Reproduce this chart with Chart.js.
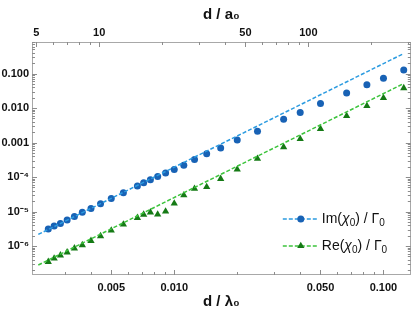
<!DOCTYPE html>
<html>
<head>
<meta charset="utf-8">
<script src="https://cdn.jsdelivr.net/npm/chart.js@4.4.1/dist/chart.umd.min.js"></script>
<style>
  html, body { margin: 0; padding: 0; background: #fff; }
</style>
</head>
<body>
<canvas id="grafico" width="415" height="319"></canvas>
<script>
// d / lambda0 values of the sampled points
const dLambda = [0.0025, 0.002667, 0.002857, 0.003077, 0.003333, 0.003636, 0.004, 0.004444, 0.005, 0.005714,
                 0.006667, 0.007143, 0.007692, 0.008333, 0.009091, 0.01, 0.01111, 0.0125, 0.01429, 0.01667,
                 0.02, 0.025, 0.03333, 0.04, 0.05, 0.06667, 0.08333, 0.1, 0.125];
const imChi = [3.1e-6, 3.8e-6, 4.5e-6, 5.7e-6, 7.2e-6, 9.5e-6, 1.23e-5, 1.68e-5, 2.4e-5, 3.5e-5,
               5.5e-5, 6.8e-5, 8.3e-5, 1.04e-4, 1.30e-4, 1.66e-4, 2.2e-4, 3.2e-4, 4.7e-4, 6.9e-4,
               1.19e-3, 2.13e-3, 4.7e-3, 7.4e-3, 0.0135, 0.0274, 0.047, 0.073, 0.127];
const reChi = [3.5e-7, 4.4e-7, 5.4e-7, 6.6e-7, 8.6e-7, 1.07e-6, 1.42e-6, 1.95e-6, 2.85e-6, 4.25e-6,
               6.6e-6, 8.2e-6, 9.5e-6, 8.3e-6, 1.01e-5, 1.72e-5, 3.0e-5, 4.6e-5, 5.2e-5, 8.9e-5,
               1.67e-4, 3.4e-4, 7.4e-4, 1.28e-3, 2.5e-3, 5.9e-3, 0.0115, 0.0197, 0.038];

// dashed fit lines (end points)
const fitX = [0.00224, 0.1231];
const imFit = [2.17e-6, 0.362];
const reFit = [2.82e-7, 0.049];

const yTicks = [1e-6, 1e-5, 1e-4, 1e-3, 1e-2, 1e-1];
const yTickLabels = ['10\u207B\u2076', '10\u207B\u2075', '10\u207B\u2074', '0.001', '0.010', '0.100'];
const xTicks = [0.005, 0.01, 0.05, 0.1];
const xTickLabels = ['0.005', '0.010', '0.050', '0.100'];
const topTicks = [5, 10, 50, 100];
const topTickLabels = ['5', '10', '50', '100'];

const xMin = 0.00209, xMax = 0.1351;
const yMin = 1.45e-7, yMax = 0.82;
const aFactor = 2284; // d/a0 = aFactor * d/lambda0

const azul = '#1862b5';
const azulLinea = '#2b9be0';
const verde = '#157a15';
const verdeLinea = '#3cc43c';
const fuente = "'Liberation Sans', Arial, sans-serif";

function puntos(xs, ys) {
    return xs.map((x, i) => ({ x: x, y: ys[i] }));
}

// texto con subindices: partes [texto, tipo]
function textoRico(ctx, partes, x, y) {
    partes.forEach(([t, tipo]) => {
        if (tipo === 'sub') {
            ctx.font = '10px ' + fuente;
            ctx.fillText(t, x, y + 4);
        } else {
            ctx.font = (tipo === 'it' ? 'italic ' : '') + '14px ' + fuente;
            ctx.fillText(t, x, y);
        }
        x += ctx.measureText(t).width;
    });
}

const marcoPlugin = {
    id: 'marco',
    afterDatasetsDraw(chart) {
        const { ctx, chartArea: a, scales } = chart;
        ctx.save();
        ctx.strokeStyle = '#a8a8a8';
        ctx.lineWidth = 1;
        ctx.strokeRect(Math.round(a.left) + 0.5, Math.round(a.top) + 0.5,
                       Math.round(a.width) - 1, Math.round(a.height) - 1);
        ctx.strokeStyle = '#8c8c8c';
        ctx.beginPath();
        // y ticks left & right
        for (let e = -8; e <= 0; e++) {
            for (let m = 1; m <= 9; m++) {
                const v = m * Math.pow(10, e);
                if (v < yMin || v > yMax) continue;
                const py = Math.round(scales.y.getPixelForValue(v)) + 0.5;
                const len = m === 1 ? 5 : 3;
                ctx.moveTo(a.left, py); ctx.lineTo(a.left + len, py);
                ctx.moveTo(a.right, py); ctx.lineTo(a.right - len, py);
            }
        }
        // bottom ticks
        for (let e = -4; e <= 0; e++) {
            for (let m = 1; m <= 9; m++) {
                const v = m * Math.pow(10, e);
                if (v < xMin || v > xMax) continue;
                const px = Math.round(scales.x.getPixelForValue(v)) + 0.5;
                const len = xTicks.some(t => Math.abs(t - v) / t < 1e-6) ? 5 : 3;
                ctx.moveTo(px, a.bottom); ctx.lineTo(px, a.bottom - len);
            }
        }
        // top ticks
        for (let e = 0; e <= 3; e++) {
            for (let m = 1; m <= 9; m++) {
                const v = m * Math.pow(10, e);
                if (v < xMin * aFactor || v > xMax * aFactor) continue;
                const px = Math.round(scales.x2.getPixelForValue(v)) + 0.5;
                const len = topTicks.includes(v) ? 5 : 3;
                ctx.moveTo(px, a.top); ctx.lineTo(px, a.top + len);
            }
        }
        ctx.stroke();
        ctx.restore();
    },
    afterDraw(chart) {
        const { ctx, chartArea: a } = chart;
        const filas = [
            { partes: [['Im(', 'n'], ['\u03C7', 'it'], ['0', 'sub'], [') / \u0393', 'n'], ['0', 'sub']],
              linea: azulLinea, color: azul, estilo: 'circle', y: a.bottom - 56 },
            { partes: [['Re(', 'n'], ['\u03C7', 'it'], ['0', 'sub'], [') / \u0393', 'n'], ['0', 'sub']],
              linea: verdeLinea, color: verde, estilo: 'triangle', y: a.bottom - 29 }
        ];
        ctx.save();
        filas.forEach(f => {
            const x0 = a.right - 128, x1 = a.right - 92;
            ctx.strokeStyle = f.linea;
            ctx.lineWidth = 1.5;
            ctx.setLineDash([4, 2]);
            ctx.beginPath();
            ctx.moveTo(x0, f.y); ctx.lineTo(x1, f.y);
            ctx.stroke();
            ctx.setLineDash([]);
            ctx.fillStyle = f.color;
            ctx.strokeStyle = f.color;
            Chart.helpers.drawPoint(ctx, { pointStyle: f.estilo, radius: f.estilo === 'circle' ? 3.5 : 4.2, borderWidth: 0 }, (x0 + x1) / 2, f.y);
            ctx.fillStyle = '#111';
            ctx.textBaseline = 'middle';
            ctx.textAlign = 'left';
            textoRico(ctx, f.partes, x1 + 3, f.y);
        });
        ctx.restore();
    }
};

const tickFont = { family: fuente, size: 11, weight: 'bold' };
const tituloFont = { family: fuente, size: 15, weight: 'bold' };

new Chart(document.getElementById('grafico').getContext('2d'), {
    type: 'scatter',
    data: {
        datasets: [
            {
                label: 'Im fit',
                data: puntos(fitX, imFit),
                showLine: true,
                borderColor: azulLinea,
                borderWidth: 1.5,
                borderDash: [4, 2],
                pointRadius: 0
            },
            {
                label: 'Re fit',
                data: puntos(fitX, reFit),
                showLine: true,
                borderColor: verdeLinea,
                borderWidth: 1.5,
                borderDash: [4, 2],
                pointRadius: 0
            },
            {
                label: 'Im(\u03C7\u2080) / \u0393\u2080',
                data: puntos(dLambda, imChi),
                pointStyle: 'circle',
                pointRadius: 3.5,
                backgroundColor: azul,
                borderWidth: 0
            },
            {
                label: 'Re(\u03C7\u2080) / \u0393\u2080',
                data: puntos(dLambda, reChi),
                pointStyle: 'triangle',
                pointRadius: 4.2,
                backgroundColor: verde,
                borderWidth: 0
            }
        ]
    },
    options: {
        responsive: false,
        animation: false,
        devicePixelRatio: 1,
        layout: { padding: { left: 0, right: 3.5, top: 0, bottom: 0 } },
        plugins: {
            legend: { display: false },
            tooltip: { enabled: false }
        },
        scales: {
            x: {
                type: 'logarithmic',
                position: 'bottom',
                min: xMin,
                max: xMax,
                grid: { display: false, drawTicks: false },
                border: { display: false },
                afterBuildTicks: s => { s.ticks = xTicks.map(v => ({ value: v })); },
                afterFit: s => { s.height = 44; },
                ticks: {
                    autoSkip: false,
                    maxRotation: 0,
                    padding: 6,
                    color: '#111',
                    font: tickFont,
                    callback: (v, i) => xTickLabels[i]
                },
                title: {
                    display: true,
                    text: 'd / \u03BB\u2080',
                    color: '#111',
                    font: tituloFont,
                    padding: { top: 0, bottom: 8 }
                }
            },
            x2: {
                type: 'logarithmic',
                position: 'top',
                min: xMin * aFactor,
                max: xMax * aFactor,
                grid: { display: false, drawTicks: false },
                border: { display: false },
                afterBuildTicks: s => { s.ticks = topTicks.map(v => ({ value: v })); },
                afterFit: s => { s.height = 42; },
                ticks: {
                    autoSkip: false,
                    maxRotation: 0,
                    padding: 2,
                    color: '#111',
                    font: tickFont,
                    callback: (v, i) => topTickLabels[i]
                },
                title: {
                    display: true,
                    text: 'd / a\u2080',
                    color: '#111',
                    font: tituloFont,
                    padding: { top: 6, bottom: 0 }
                }
            },
            y: {
                type: 'logarithmic',
                min: yMin,
                max: yMax,
                grid: { display: false, drawTicks: false },
                border: { display: false },
                afterBuildTicks: s => { s.ticks = yTicks.map(v => ({ value: v })); },
                afterFit: s => { s.width = 32; },
                ticks: {
                    autoSkip: false,
                    padding: 3,
                    color: '#111',
                    font: tickFont,
                    callback: (v, i) => yTickLabels[i]
                }
            }
        }
    },
    plugins: [marcoPlugin]
});
</script>
</body>
</html>
